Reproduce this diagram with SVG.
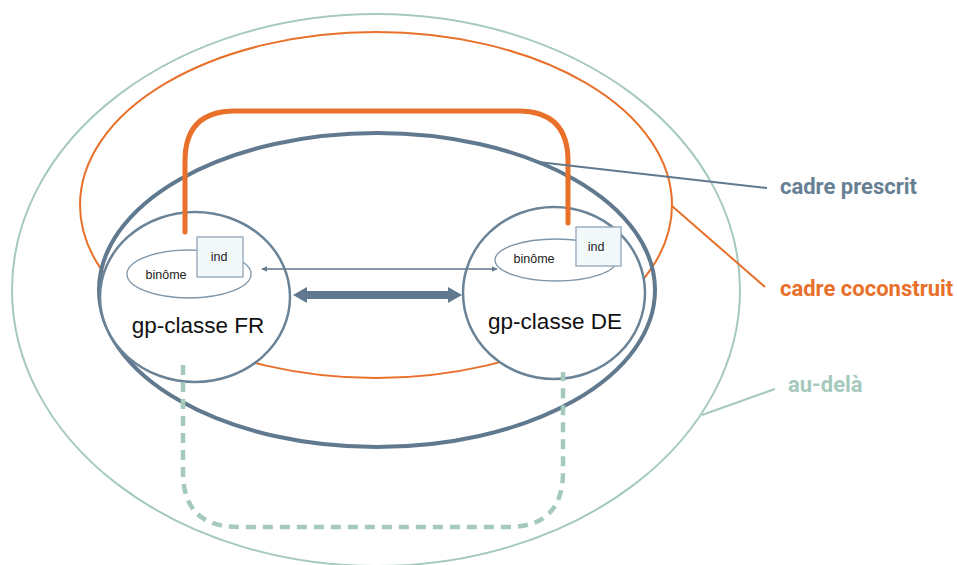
<svg xmlns="http://www.w3.org/2000/svg" width="957" height="565" viewBox="0 0 957 565">
<style>
.teal{fill:none;stroke:#a5cabd;stroke-width:2}
.orange{fill:none;stroke:#e8702a;stroke-width:2}
.blue{fill:none;stroke:#61798e;stroke-width:4}
.circ{fill:#fff;stroke:#6a8397;stroke-width:2.5}
.bin{fill:none;stroke:#7f97ab;stroke-width:1.3}
.ind{fill:#f3f8fa;stroke:#8fa6b8;stroke-width:1.3}
.small{font-family:"Liberation Sans",Arial,sans-serif;font-size:12.5px;fill:#222;text-anchor:middle}
.gp{font-family:"Liberation Sans",Arial,sans-serif;font-size:22.5px;fill:#111;text-anchor:middle}
.lab{font-family:Roboto,"Liberation Sans",sans-serif;font-size:22px;font-weight:700}
</style>
<defs>
<marker id="ah" viewBox="0 0 10 10" refX="9" refY="5" markerWidth="6" markerHeight="6" orient="auto-start-reverse" markerUnits="userSpaceOnUse">
<path d="M0,0 L10,5 L0,10 z" fill="#61798e"/>
</marker>
</defs>
<g id="au-dela-frame"><ellipse class="teal" cx="376" cy="290" rx="364" ry="276"/></g>
<g id="cadre-coconstruit-frame"><ellipse class="orange" cx="376" cy="205" rx="296" ry="173"/></g>
<g id="cadre-prescrit-frame"><ellipse class="blue" cx="377" cy="290" rx="278" ry="157"/></g>
<g id="gp-classe-FR">
<ellipse class="circ" cx="195" cy="297" rx="95" ry="85"/>
<ellipse class="bin" cx="189" cy="274" rx="62" ry="24"/>
<text class="small" x="166" y="279">binôme</text>
<rect class="ind" x="197" y="237" width="46" height="40"/>
<text class="small" x="219" y="261">ind</text>
<text class="gp" x="198" y="333">gp-classe FR</text>
</g>
<g id="gp-classe-DE">
<ellipse class="circ" cx="554" cy="293" rx="91" ry="86"/>
<ellipse class="bin" cx="556" cy="260" rx="61" ry="21"/>
<text class="small" x="534" y="263">binôme</text>
<rect class="ind" x="576" y="227" width="45" height="39"/>
<text class="small" x="596" y="251">ind</text>
<text class="gp" x="555" y="329">gp-classe DE</text>
</g>
<g id="connectors">
<path d="M185,232 V161 Q185,111 235,111 H518 Q568,111 568,161 V223" fill="none" stroke="#e8702a" stroke-width="5" stroke-linecap="round"/>
<line x1="262" y1="269" x2="497" y2="269" stroke="#61798e" stroke-width="1.5" marker-start="url(#ah)" marker-end="url(#ah)"/>
<polygon points="293,295 307,287 307,291 448,291 448,287 462,295 448,303 448,299 307,299 307,303" fill="#61798e"/>
<path d="M183,365 V472 Q183,527 238,527 H508 Q563,527 563,472 V372" fill="none" stroke="#a5cabd" stroke-width="4.5" stroke-dasharray="10,7"/>
<line x1="538" y1="162" x2="767" y2="188" stroke="#61798e" stroke-width="2"/>
<line x1="672" y1="206" x2="765" y2="287" stroke="#e8702a" stroke-width="2"/>
<line x1="702" y1="415" x2="775" y2="389" stroke="#a5cabd" stroke-width="2"/>
</g>
<g id="labels">
<text class="lab" x="780" y="194" fill="#677f93">cadre prescrit</text>
<text class="lab" x="780" y="296" fill="#e8702a">cadre coconstruit</text>
<text class="lab" x="788" y="392" fill="#a5cabd">au-delà</text>
</g>
</svg>
